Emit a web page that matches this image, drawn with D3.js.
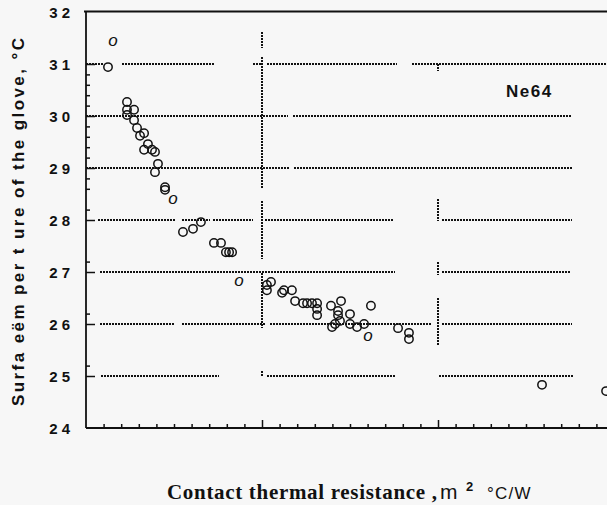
<!DOCTYPE html>
<html lang="en">
<head>
<meta charset="utf-8">
<title>Ne64 glove surface temperature</title>
<script src="https://d3js.org/d3.v7.min.js"></script>
<style>
  body { margin: 0; background: #f7f7f7; }
  svg { display: block; background: #f7f7f7; }
  .ylab { font-family: "Liberation Sans", Arial, sans-serif; font-weight: bold; font-size: 15px; }
  .title { font-family: "Liberation Sans", Arial, sans-serif; font-weight: bold; font-size: 17px; }
</style>
</head>
<body>
<svg width="607" height="505"></svg>
<script>
// measured points: contact resistance (m2 C/W) vs glove surface temperature (C)
const resist = [0.0125, 0.0233, 0.0233, 0.0233, 0.0273, 0.0273, 0.0290, 0.0307, 0.0330, 0.0352,
  0.0330, 0.0375, 0.0392, 0.0409, 0.0392, 0.0449, 0.0449, 0.0551, 0.0608, 0.0653,
  0.0727, 0.0767, 0.0795, 0.0813, 0.0830, 0.1028, 0.1051, 0.1028, 0.1114, 0.1125,
  0.1170, 0.1188, 0.1233, 0.1256, 0.1284, 0.1313, 0.1313, 0.1313, 0.1392, 0.1449,
  0.1432, 0.1432, 0.1500, 0.1398, 0.1415, 0.1443, 0.1500, 0.1540, 0.1580, 0.1619,
  0.1773, 0.1835, 0.1835, 0.2591, 0.2955];
const temp = [30.94, 30.27, 30.12, 30.02, 30.12, 29.92, 29.77, 29.62, 29.67, 29.46,
  29.35, 29.35, 29.31, 29.08, 28.92, 28.63, 28.58, 27.77, 27.83, 27.96,
  27.56, 27.56, 27.38, 27.38, 27.38, 26.75, 26.81, 26.65, 26.60, 26.65,
  26.65, 26.44, 26.40, 26.40, 26.40, 26.40, 26.29, 26.17, 26.35, 26.44,
  26.25, 26.17, 26.19, 25.94, 26.00, 26.06, 26.00, 25.94, 26.00, 26.35,
  25.92, 25.83, 25.71, 24.83, 24.71];
// points printed as italic "o"
const oddResist = [0.0153, 0.0494, 0.0869, 0.1602];
const oddTemp = [31.44, 28.40, 26.83, 25.77];

const yTicks = [32, 31, 30, 29, 28, 27, 26, 25, 24];
const yMinor = [30.8, 30.6, 30.4, 30.2, 29.8, 29.6, 29.4, 29.2, 28.8, 28.6, 28.2, 27.2, 26.2, 25.2];
const xMajor = [0.1, 0.2];
const xMinor = d3.range(1, 30).map(i => i / 100).filter(v => Math.abs(v - 0.1) > 1e-6 && Math.abs(v - 0.2) > 1e-6);

// broken dotted grid (as scanned)
const gridLevels = [31, 30, 29, 28, 27, 26, 25];
const gridRuns = [
  [[0, 0.0097], [0.0205, 0.0727], [0.0949, 0.1], [0.1028, 0.1767], [0.1852, 0.3]],
  [[0, 0.1148], [0.1176, 0.2761]],
  [[0, 0.1153], [0.1182, 0.2761]],
  [[0.0068, 0.0506], [0.0545, 0.0705], [0.0722, 0.0949], [0.1017, 0.175], [0.2023, 0.2761]],
  [[0.008, 0.1756], [0.2023, 0.2756]],
  [[0.008, 0.0506], [0.0545, 0.1017], [0.1045, 0.1966], [0.2023, 0.2761]],
  [[0.0085, 0.0756], [0.1028, 0.1756], [0.2006, 0.2767]]
];
const vGridX = [0.1, 0.1, 0.1, 0.1, 0.1, 0.2, 0.2, 0.2, 0.2];
const vGridRuns = [[31.62, 31.30], [31.13, 28.60], [28.37, 27.25], [26.98, 25.92], [25.10, 24.98],
  [31.00, 30.87], [28.40, 27.98], [27.19, 26.94], [26.50, 25.58]];

const svg = d3.select("svg");
const x = d3.scaleLinear().domain([0, 0.3]).range([86, 614]);
const y = d3.scaleLinear().domain([24, 32]).range([428, 12]);
const ink = "#111";

// grid
const g = svg.append("g").attr("stroke", ink).attr("stroke-width", 2)
  .attr("stroke-dasharray", "2,1").attr("shape-rendering", "crispEdges");
gridLevels.forEach((lv, i) => {
  gridRuns[i].forEach(r => {
    g.append("line").attr("x1", Math.round(x(r[0]))).attr("x2", Math.round(x(r[1])))
      .attr("y1", y(lv)).attr("y2", y(lv));
  });
});
vGridRuns.forEach((r, i) => {
  const xv = Math.round(x(vGridX[i]));
  g.append("line").attr("x1", xv).attr("x2", xv).attr("y1", y(r[0])).attr("y2", y(r[1]));
});

// frame
svg.append("line").attr("x1", 84).attr("x2", 607).attr("y1", 11.5).attr("y2", 11.5)
  .attr("stroke", ink).attr("stroke-width", 1.8);

// axes
function styleAxis(sel) {
  sel.select(".domain").remove();
  sel.selectAll("line").attr("stroke", ink).attr("stroke-width", 1.5);
}
svg.append("g").attr("transform", `translate(0,${y(24)})`)
  .call(d3.axisBottom(x).tickValues(xMinor).tickSize(-4).tickFormat("")).call(styleAxis);
svg.append("g").attr("transform", `translate(0,${y(24)})`)
  .call(d3.axisBottom(x).tickValues(xMajor).tickSize(-8).tickFormat("")).call(styleAxis);
svg.append("g").attr("transform", `translate(${x(0)},0)`)
  .call(d3.axisLeft(y).tickValues(yMinor).tickSize(-4).tickFormat("")).call(styleAxis);
const yl = svg.append("g").attr("transform", `translate(${x(0)},0)`)
  .call(d3.axisLeft(y).tickValues(yTicks.slice(1, -1)).tickSize(-9).tickPadding(0).tickFormat(""));
styleAxis(yl);
svg.append("g").attr("transform", `translate(${x(0) - 12},0)`)
  .call(d3.axisLeft(y).tickValues(yTicks).tickSize(0).tickPadding(0).tickFormat(d3.format("d")))
  .call(s => s.select(".domain").remove())
  .selectAll("text").attr("class", "ylab").attr("fill", ink).attr("letter-spacing", 4).attr("dy", "0.36em");

svg.append("line").attr("x1", x(0)).attr("x2", x(0)).attr("y1", 11.5).attr("y2", y(24))
  .attr("stroke", ink).attr("stroke-width", 1.8);
svg.append("line").attr("x1", x(0)).attr("x2", 607).attr("y1", y(24)).attr("y2", y(24))
  .attr("stroke", ink).attr("stroke-width", 2);

// markers
svg.append("g").selectAll("circle").data(resist).join("circle")
  .attr("cx", d => x(d)).attr("cy", (d, i) => y(temp[i])).attr("r", 4.2)
  .attr("fill", "none").attr("stroke", ink).attr("stroke-width", 1.5);
svg.append("g").selectAll("text").data(oddResist).join("text")
  .attr("x", d => x(d)).attr("y", (d, i) => y(oddTemp[i])).attr("dy", "0.3em")
  .attr("text-anchor", "middle").attr("font-family", "Liberation Sans, Arial, sans-serif")
  .attr("font-style", "italic").attr("font-size", 17).attr("fill", ink).text("o");

// labels
svg.append("text").attr("class", "title").attr("x", 506).attr("y", 97)
  .attr("font-size", 20).attr("letter-spacing", 1.5).attr("fill", ink).text("Ne64");

svg.append("text").attr("transform", "translate(24,222) rotate(-90)")
  .attr("text-anchor", "middle").attr("font-family", "Liberation Sans, Arial, sans-serif")
  .attr("font-weight", "bold").attr("font-size", 17).attr("fill", ink)
  .attr("textLength", 368).attr("lengthAdjust", "spacing")
  .text("Surfa eëm per t ure of the glove, °C");

const xl = svg.append("text").attr("y", 499).attr("fill", ink);
xl.append("tspan").attr("x", 167).attr("font-family", "Liberation Serif, Times New Roman, serif")
  .attr("font-weight", "bold").attr("font-size", 21).attr("textLength", 270).attr("lengthAdjust", "spacing")
  .text("Contact thermal resistance ,");
xl.append("tspan").attr("x", 440).attr("font-family", "Liberation Sans, Arial, sans-serif")
  .attr("font-size", 21).text("m");
xl.append("tspan").attr("x", 466).attr("dy", -8).attr("font-family", "Liberation Sans, Arial, sans-serif")
  .attr("font-weight", "bold").attr("font-size", 13).text("2");
xl.append("tspan").attr("x", 487).attr("dy", 8).attr("font-family", "Liberation Sans, Arial, sans-serif")
  .attr("font-size", 17).attr("letter-spacing", 1.2).text("°C/W");
</script>
</body>
</html>
